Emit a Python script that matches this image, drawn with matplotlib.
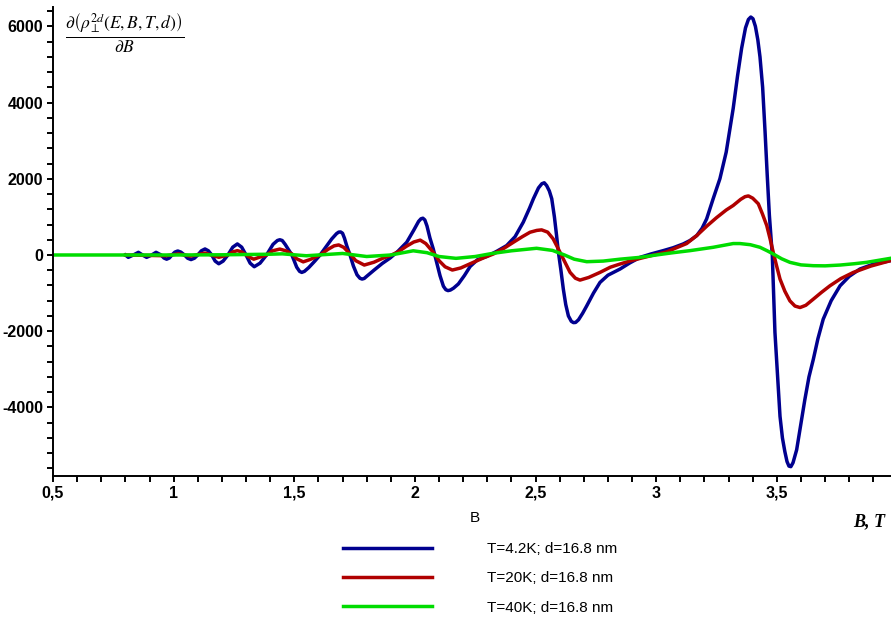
import matplotlib
matplotlib.use("Agg")
import matplotlib.pyplot as plt
from matplotlib.ticker import MultipleLocator, FuncFormatter

plt.rcParams['font.family'] = ['Liberation Sans', 'DejaVu Sans']
plt.rcParams['mathtext.fontset'] = 'stix'

# B, T values and derivative values
b_42 = [0.800, 0.812, 0.833, 0.854, 0.871, 0.888, 0.909, 0.927, 0.948, 0.960,
        0.971, 0.982, 0.993, 1.005, 1.017, 1.030, 1.045, 1.058, 1.072, 1.086,
        1.100, 1.115, 1.130, 1.144, 1.158, 1.172, 1.187, 1.205, 1.225, 1.245,
        1.264, 1.282, 1.300, 1.317, 1.334, 1.358, 1.385, 1.412, 1.430, 1.440,
        1.450, 1.462, 1.490, 1.510, 1.522, 1.531, 1.542, 1.560, 1.585, 1.607,
        1.630, 1.655, 1.675, 1.684, 1.692, 1.700, 1.708, 1.718, 1.731, 1.745,
        1.760, 1.772, 1.781, 1.790, 1.800, 1.830, 1.865, 1.897, 1.930, 1.966,
        1.995, 2.015, 2.025, 2.033, 2.041, 2.050, 2.062, 2.076, 2.090, 2.104,
        2.118, 2.128, 2.137, 2.147, 2.160, 2.180, 2.205, 2.229, 2.260, 2.297,
        2.340, 2.380, 2.415, 2.449, 2.475, 2.491, 2.512, 2.526, 2.536, 2.546,
        2.557, 2.567, 2.578, 2.587, 2.594, 2.605, 2.615, 2.625, 2.636, 2.648,
        2.657, 2.666, 2.678, 2.695, 2.712, 2.740, 2.767, 2.800, 2.850, 2.890,
        2.933, 2.980, 3.029, 3.070, 3.112, 3.140, 3.168, 3.190, 3.209, 3.236,
        3.264, 3.290, 3.319, 3.337, 3.354, 3.370, 3.382, 3.392, 3.401, 3.411,
        3.421, 3.430, 3.441, 3.451, 3.460, 3.469, 3.481, 3.492, 3.503, 3.513,
        3.523, 3.533, 3.542, 3.550, 3.558, 3.567, 3.582, 3.598, 3.616, 3.633,
        3.651, 3.670, 3.692, 3.725, 3.762, 3.800, 3.844, 3.900, 3.973]
v_42 = [0, -62, 0, 70, 0, -62, 0, 70, 0, -80,
        -110, -80, 0, 75, 105, 75, 0, -85, -120, -85,
        0, 110, 158, 110, 0, -160, -230, -160, 0, 205,
        290, 205, 0, -215, -308, -215, 0, 280, 380, 400,
        380, 280, 0, -320, -430, -457, -430, -330, -160, 0,
        200, 420, 560, 600, 605, 570, 440, 230, 0, -290,
        -520, -610, -632, -615, -560, -400, -220, -80, 100, 334,
        650, 880, 950, 965, 920, 760, 450, 158, -193, -544,
        -820, -910, -935, -920, -870, -760, -540, -300, -120, -40,
        100, 246, 480, 861, 1230, 1476, 1760, 1870, 1895, 1820,
        1680, 1476, 1000, 510, 100, -400, -896, -1300, -1599, -1740,
        -1775, -1770, -1700, -1530, -1335, -1000, -720, -530, -369, -210,
        -62, 30, 114, 190, 290, 380, 510, 700, 948, 1476,
        2003, 2700, 3847, 4700, 5428, 5960, 6180, 6245, 6200, 6000,
        5650, 5200, 4400, 3241, 2100, 1036, 0, -2029, -3200, -4234,
        -4800, -5157, -5420, -5540, -5555, -5450, -5112, -4500, -3794, -3200,
        -2740, -2200, -1686, -1200, -808, -560, -369, -240, -145]

b_20 = [0.800, 0.970, 1.020, 1.070, 1.130, 1.187, 1.225, 1.245, 1.264, 1.282,
        1.300, 1.315, 1.332, 1.355, 1.385, 1.410, 1.440, 1.465, 1.490, 1.510,
        1.537, 1.565, 1.607, 1.640, 1.665, 1.684, 1.705, 1.731, 1.755, 1.790,
        1.830, 1.865, 1.897, 1.930, 1.965, 1.995, 2.022, 2.045, 2.076, 2.100,
        2.125, 2.155, 2.190, 2.242, 2.290, 2.325, 2.370, 2.408, 2.445, 2.477,
        2.505, 2.525, 2.550, 2.573, 2.595, 2.615, 2.643, 2.665, 2.684, 2.720,
        2.767, 2.810, 2.850, 2.890, 2.933, 2.990, 3.043, 3.080, 3.126, 3.168,
        3.210, 3.250, 3.290, 3.319, 3.350, 3.368, 3.382, 3.400, 3.423, 3.440,
        3.458, 3.472, 3.485, 3.499, 3.513, 3.533, 3.554, 3.575, 3.596, 3.620,
        3.651, 3.685, 3.720, 3.765, 3.817, 3.890, 3.973]
v_20 = [0, -20, 30, -30, 50, -60, 0, 80, 114, 80,
        0, -60, -110, -60, 0, 110, 155, 110, 30, -100,
        -180, -120, 0, 150, 240, 264, 200, 26, -150, -264,
        -190, -90, -17, 80, 230, 340, 390, 300, 70, -150,
        -310, -395, -340, -193, -60, 26, 180, 334, 480, 597,
        645, 659, 600, 422, 150, -105, -457, -610, -659, -590,
        -457, -320, -237, -160, -90, 0, 80, 180, 300, 510,
        760, 980, 1180, 1299, 1460, 1530, 1550, 1490, 1344, 1080,
        773, 420, 70, -290, -632, -950, -1204, -1340, -1379, -1320,
        -1159, -980, -808, -620, -457, -290, -145]

b_40 = [0.500, 1.000, 1.200, 1.400, 1.450, 1.550, 1.700, 1.800, 1.900, 1.993,
        2.050, 2.100, 2.170, 2.250, 2.320, 2.400, 2.504, 2.570, 2.620, 2.660,
        2.712, 2.780, 2.850, 2.933, 3.000, 3.070, 3.140, 3.236, 3.319, 3.347,
        3.390, 3.430, 3.460, 3.485, 3.520, 3.554, 3.600, 3.651, 3.700, 3.762,
        3.820, 3.872, 3.973]
v_40 = [0, 0, 5, 20, 30, -20, 40, -40, 0, 110,
        60, -40, -88, -40, 40, 110, 176, 120, 0, -110,
        -176, -160, -110, -62, 0, 60, 114, 202, 300, 300,
        270, 202, 110, 26, -100, -193, -260, -281, -285, -264,
        -230, -193, -85]

labels = ["T=4.2K; d=16.8 nm", "T=20K; d=16.8 nm", "T=40K; d=16.8 nm"]
colors = ["#00008f", "#b00000", "#00dc00"]

fig = plt.figure(figsize=(8.91, 6.18), dpi=100)
ax = fig.add_axes([53 / 891, 1 - 476 / 618, 838 / 891, 468.7 / 618])

ax.plot(b_42, v_42, color=colors[0], lw=2.5, label=labels[0], solid_joinstyle="round")
ax.plot(b_20, v_20, color=colors[1], lw=2.5, label=labels[1], solid_joinstyle="round")
ax.plot(b_40, v_40, color=colors[2], lw=2.5, label=labels[2], solid_joinstyle="round")

ax.set_xlim(0.5, 3.973)
ax.set_ylim(-5800, 6500)

for s in ["top", "right"]:
    ax.spines[s].set_visible(False)
for s in ["left", "bottom"]:
    ax.spines[s].set_linewidth(1.4)

ax.xaxis.set_major_locator(MultipleLocator(0.5))
ax.xaxis.set_minor_locator(MultipleLocator(0.1))
ax.yaxis.set_major_locator(MultipleLocator(2000))
ax.yaxis.set_minor_locator(MultipleLocator(400))
ax.xaxis.set_major_formatter(FuncFormatter(lambda v, p: f"{v:g}".replace(".", ",")))
ax.yaxis.set_major_formatter(FuncFormatter(lambda v, p: f"{v:.0f}"))
ax.tick_params(which="both", direction="out", length=4, width=1.4)
ax.tick_params(which="major", labelsize=11.5, pad=3)
for t in ax.get_xticklabels() + ax.get_yticklabels():
    t.set_fontweight("bold")

fig.text(475 / 891, 1 - 518 / 618, "B", fontsize=11, ha="center", va="center")
fig.text(885 / 891, 1 - 522 / 618, "B, T", fontsize=13, ha="right", va="center",
         family="Liberation Serif", style="italic", weight="bold")
fig.text(125 / 891, 1 - 33 / 618,
         r"$\frac{\partial\left(\rho_{\perp}^{2d}(E,B,T,d)\right)}{\partial B}$",
         fontsize=18, ha="center", va="center")

ax.legend(loc="upper left", bbox_to_anchor=(343 / 891, 1 - 542 / 618),
          bbox_transform=fig.transFigure, frameon=False, fontsize=11,
          handlelength=5.8, handletextpad=3.6, labelspacing=1.0, borderpad=0,
          borderaxespad=0)

fig.savefig("out.png", dpi=100)
